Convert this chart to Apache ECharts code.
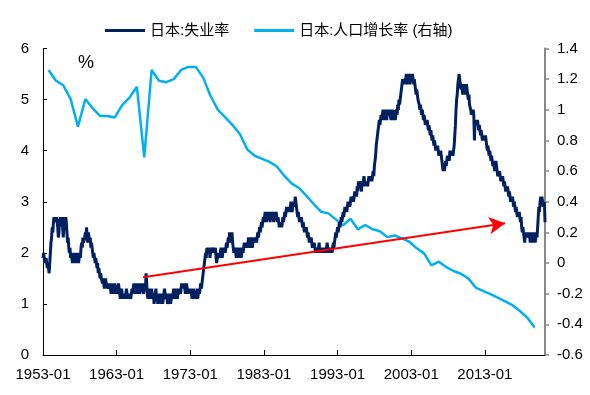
<!DOCTYPE html>
<html>
<head>
<meta charset="utf-8">
<script src="https://cdn.jsdelivr.net/npm/echarts@6/dist/echarts.min.js"></script>
<style>
html,body{margin:0;padding:0;background:#fff;}
#chart{width:590px;height:395px;}
</style>
</head>
<body>
<div id="chart"></div>
<script>
// Monthly unemployment rate (%), 1953-01 .. 2021-03, one row per year
var unemployment = [
1.9,2.0,1.9,1.8,1.8,1.9,1.8,1.7,1.8,1.7,1.6,1.8,
2.0,2.2,2.3,2.5,2.4,2.6,2.7,2.6,2.7,2.6,2.7,2.6,
2.5,2.3,2.4,2.6,2.7,2.6,2.7,2.6,2.5,2.3,2.5,2.7,
2.6,2.7,2.6,2.4,2.2,2.3,2.1,2.0,2.1,1.9,2.0,1.9,
1.8,1.9,2.0,1.8,1.9,1.8,1.9,2.0,1.9,2.0,1.8,1.9,
2.0,1.9,2.1,2.2,2.1,2.3,2.2,2.2,2.3,2.4,2.3,2.5,
2.3,2.2,2.4,2.3,2.2,2.3,2.1,2.2,2.1,2.0,1.9,2.0,
1.9,1.8,1.9,1.8,1.7,1.8,1.6,1.7,1.6,1.5,1.6,1.5,
1.5,1.4,1.5,1.4,1.3,1.4,1.5,1.4,1.3,1.4,1.4,1.3,
1.3,1.4,1.3,1.2,1.3,1.4,1.3,1.2,1.3,1.4,1.3,1.2,
1.3,1.2,1.3,1.4,1.3,1.2,1.1,1.2,1.3,1.2,1.1,1.2,
1.1,1.2,1.1,1.2,1.3,1.2,1.1,1.2,1.1,1.2,1.2,1.1,
1.2,1.3,1.2,1.3,1.4,1.3,1.2,1.3,1.4,1.3,1.2,1.3,
1.4,1.3,1.2,1.3,1.4,1.3,1.4,1.3,1.2,1.3,1.4,1.3,
1.6,1.4,1.2,1.1,1.3,1.2,1.3,1.1,1.2,1.3,1.2,1.1,
1.2,1.0,1.1,1.2,1.3,1.1,1.2,1.0,1.1,1.2,1.1,1.0,
1.1,1.2,1.1,1.0,1.1,1.2,1.3,1.2,1.1,1.2,1.1,1.0,
1.0,1.1,1.2,1.1,1.0,1.1,1.2,1.1,1.2,1.3,1.2,1.1,
1.2,1.3,1.2,1.1,1.2,1.3,1.2,1.3,1.2,1.3,1.4,1.3,
1.4,1.3,1.4,1.3,1.2,1.3,1.4,1.3,1.2,1.3,1.2,1.3,
1.2,1.3,1.2,1.1,1.2,1.3,1.2,1.1,1.2,1.1,1.2,1.3,
1.1,1.2,1.3,1.2,1.3,1.4,1.3,1.4,1.5,1.6,1.7,1.8,
1.9,2.0,1.9,2.1,2.0,2.1,2.0,2.1,1.9,2.0,2.1,2.0,
2.0,2.1,2.0,2.1,2.0,2.1,1.9,1.8,1.9,2.0,2.0,1.9,
1.9,2.0,2.1,2.0,1.9,2.0,2.1,2.0,2.1,2.0,2.1,2.2,
2.1,2.2,2.3,2.2,2.4,2.3,2.2,2.3,2.4,2.2,2.1,2.0,
2.0,2.1,2.0,1.9,2.0,2.1,2.0,1.9,2.0,2.1,2.0,1.9,
2.0,2.1,2.0,2.1,2.2,2.1,2.2,2.1,2.2,2.1,2.2,2.3,
2.2,2.1,2.2,2.3,2.2,2.1,2.2,2.3,2.2,2.3,2.2,2.3,
2.2,2.3,2.4,2.3,2.4,2.5,2.4,2.5,2.6,2.5,2.6,2.7,
2.6,2.7,2.8,2.7,2.6,2.7,2.8,2.7,2.8,2.7,2.6,2.7,
2.8,2.7,2.8,2.7,2.6,2.7,2.8,2.7,2.8,2.7,2.6,2.7,
2.6,2.5,2.6,2.5,2.6,2.5,2.6,2.7,2.6,2.7,2.8,2.7,
2.8,2.9,2.8,2.9,2.8,2.9,2.8,2.9,3.0,2.9,2.8,2.9,
2.9,3.0,2.9,3.1,3.0,2.9,2.8,2.7,2.8,2.7,2.6,2.7,
2.6,2.7,2.6,2.5,2.6,2.5,2.4,2.5,2.4,2.5,2.4,2.3,
2.4,2.3,2.2,2.3,2.2,2.3,2.2,2.1,2.2,2.1,2.2,2.1,
2.0,2.1,2.0,2.1,2.0,2.1,2.2,2.0,2.1,2.0,2.1,2.0,
2.1,2.0,2.1,2.0,2.1,2.0,2.1,2.2,2.1,2.0,2.1,2.0,
2.1,2.0,2.1,2.0,2.1,2.2,2.1,2.2,2.3,2.4,2.3,2.4,
2.5,2.4,2.5,2.6,2.5,2.6,2.7,2.6,2.7,2.8,2.7,2.8,
2.9,2.8,2.9,2.8,2.9,3.0,2.9,3.0,2.9,3.0,3.1,3.0,
3.0,3.1,3.0,3.1,3.2,3.1,3.2,3.1,3.3,3.2,3.4,3.3,
3.3,3.4,3.3,3.2,3.4,3.3,3.4,3.5,3.4,3.3,3.4,3.3,
3.4,3.3,3.4,3.5,3.4,3.5,3.4,3.5,3.4,3.5,3.6,3.5,
3.7,3.8,3.9,4.1,4.2,4.3,4.4,4.5,4.6,4.5,4.6,4.7,
4.6,4.7,4.8,4.7,4.6,4.7,4.8,4.7,4.6,4.7,4.8,4.7,
4.7,4.8,4.7,4.6,4.7,4.8,4.7,4.6,4.7,4.8,4.6,4.7,
4.8,4.7,4.9,4.8,5.0,4.9,5.0,5.1,5.2,5.3,5.4,5.3,
5.3,5.4,5.3,5.4,5.5,5.4,5.3,5.4,5.5,5.4,5.3,5.4,
5.5,5.4,5.5,5.4,5.3,5.4,5.3,5.2,5.1,5.2,5.1,5.0,
5.0,4.9,4.8,4.9,4.8,4.7,4.8,4.7,4.6,4.7,4.6,4.5,
4.6,4.5,4.6,4.5,4.4,4.5,4.4,4.3,4.4,4.3,4.2,4.3,
4.2,4.1,4.2,4.1,4.0,4.1,4.0,4.1,4.0,3.9,4.0,3.9,
4.0,3.9,3.8,3.7,3.6,3.7,3.6,3.7,3.8,3.7,3.8,3.9,
3.8,3.9,3.8,4.0,3.9,4.0,3.9,4.0,3.9,4.0,4.1,4.3,
4.5,4.8,5.0,5.1,5.3,5.4,5.5,5.4,5.3,5.2,5.3,5.2,
5.1,5.2,5.3,5.2,5.1,5.2,5.3,5.2,5.1,5.0,5.1,4.9,
4.9,4.8,4.7,4.8,4.7,4.8,4.7,4.2,4.6,4.5,4.6,4.5,
4.6,4.5,4.4,4.5,4.4,4.3,4.4,4.3,4.2,4.3,4.2,4.3,
4.2,4.3,4.2,4.1,4.0,4.1,4.0,3.9,4.0,3.9,3.8,3.9,
3.8,3.7,3.8,3.7,3.6,3.7,3.8,3.7,3.6,3.5,3.6,3.5,
3.6,3.5,3.4,3.5,3.4,3.5,3.4,3.3,3.4,3.3,3.2,3.3,
3.2,3.3,3.2,3.1,3.2,3.1,3.0,3.1,3.0,3.1,3.0,2.9,
3.0,2.9,2.8,2.9,2.8,2.7,2.8,2.7,2.8,2.7,2.6,2.7,
2.5,2.4,2.5,2.4,2.3,2.2,2.4,2.3,2.4,2.3,2.4,2.3,
2.4,2.3,2.2,2.3,2.2,2.4,2.3,2.2,2.4,2.3,2.2,2.3,
2.4,2.3,2.5,2.7,2.9,2.8,3.0,3.1,3.0,3.1,3.0,2.9,
2.9,3.0,2.6
];

// Annual population growth rate (%), plotted at October of each year 1953..2019
var popYears = [];
for (var yy = 1953; yy <= 2019; yy++) popYears.push(yy);
var popGrowth = [
1.26,1.19,1.16,1.07,0.89,1.07,1.01,0.96,0.96,0.95,
1.03,1.08,1.15,0.69,1.26,1.19,1.18,1.20,1.26,1.28,
1.28,1.21,1.09,1.00,0.95,0.90,0.84,0.74,0.70,0.68,
0.66,0.63,0.57,0.52,0.49,0.44,0.385,0.335,0.324,0.285,
0.246,0.289,0.22,0.248,0.22,0.208,0.169,0.18,0.161,0.139,
0.096,0.063,-0.015,0.009,-0.026,-0.052,-0.07,-0.10,-0.16,-0.182,
-0.203,-0.225,-0.25,-0.275,-0.313,-0.356,-0.421
];

var xTickEvery = 120;          // label every 10 years
var arrowStart = ['1966-08', 1.52];
var arrowEnd = ['2015-10', 2.58];

var categories = [];
for (var i = 0; i < unemployment.length; i++) {
  var y = 1953 + Math.floor(i / 12), m = i % 12 + 1;
  categories.push(y + '-' + (m < 10 ? '0' + m : m));
}
var popData = popYears.map(function (yr, k) { return [yr + '-10', popGrowth[k]]; });

var FONT = '"Liberation Sans", "Noto Sans CJK SC", sans-serif';
var chart = echarts.init(document.getElementById('chart'), null, {renderer: 'canvas'});
chart.setOption({
  animation: false,
  backgroundColor: '#fff',
  textStyle: {fontFamily: FONT},
  grid: {left: 43, right: 45, top: 48.5, bottom: 40, containLabel: false},
  legend: {
    left: 105, top: 23, padding: 0,
    icon: 'rect',
    itemWidth: 40, itemHeight: 3, itemGap: 25,
    textStyle: {fontSize: 15, color: '#000', fontFamily: FONT},
    data: ['日本:失业率', '日本:人口增长率 (右轴)']
  },
  graphic: [{
    type: 'text', left: 78, top: 54,
    style: {text: '%', fontSize: 18, fill: '#000', fontFamily: FONT}
  }],
  xAxis: {
    type: 'category', data: categories, boundaryGap: false,
    axisLine: {lineStyle: {color: '#000', width: 1}},
    axisTick: {inside: true, length: 5, lineStyle: {color: '#000'},
      interval: function (idx) { return idx % xTickEvery === 0; }},
    axisLabel: {fontSize: 15, color: '#000', margin: 12, fontFamily: FONT,
      interval: function (idx) { return idx % xTickEvery === 0; }},
    splitLine: {show: false}
  },
  yAxis: [{
    type: 'value', min: 0, max: 6, interval: 1, position: 'left',
    axisLine: {show: true, lineStyle: {color: '#000', width: 1}},
    axisTick: {show: true, inside: true, length: 4, lineStyle: {color: '#000'}},
    axisLabel: {fontSize: 15, color: '#000', margin: 14, fontFamily: FONT},
    splitLine: {show: false}
  }, {
    type: 'value', min: -0.6, max: 1.4, interval: 0.2, position: 'right',
    axisLine: {show: true, lineStyle: {color: '#888', width: 2}},
    axisTick: {show: true, inside: false, length: 4, lineStyle: {color: '#888', width: 1.5}},
    axisLabel: {fontSize: 15, color: '#000', margin: 12, fontFamily: FONT},
    splitLine: {show: false}
  }],
  series: [{
    name: '日本:失业率', type: 'line', yAxisIndex: 0,
    data: unemployment, symbol: 'none', showSymbol: false,
    lineStyle: {color: '#002060', width: 3},
    itemStyle: {color: '#002060'},
    z: 3,
    markLine: {
      silent: true, symbol: ['none', 'arrow'], symbolSize: [13, 16],
      label: {show: false},
      lineStyle: {color: '#ff0000', width: 2, type: 'solid'},
      data: [[{coord: arrowStart}, {coord: arrowEnd}]]
    }
  }, {
    name: '日本:人口增长率 (右轴)', type: 'line', yAxisIndex: 1,
    data: popData, symbol: 'none', showSymbol: false, connectNulls: true,
    lineStyle: {color: '#00b0f0', width: 2.5},
    itemStyle: {color: '#00b0f0'},
    z: 2
  }]
});
</script>
</body>
</html>
